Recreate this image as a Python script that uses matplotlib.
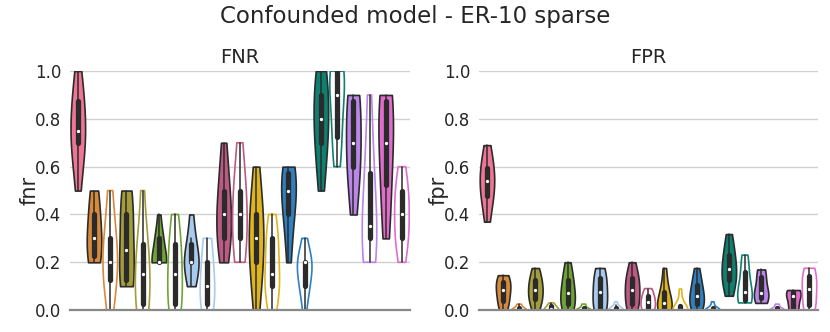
import numpy as np
import pandas as pd
import seaborn as sns
import matplotlib.pyplot as plt

sns.set_theme(style="whitegrid")

# one colour per method, each method after the first has a filled + hollow violin
colors = ["#ee7594", "#d8893a", "#a39d3a", "#6ea433", "#a8caee",
          "#bd5a84", "#e0b51c", "#2e80c0", "#0e8070", "#bb85ea", "#e06dcc"]
hollow = [False] + [False, True] * 10

# ======================
# FNR values per violin
# ======================
fnr = [
    [0.5, 0.6, 0.7, 0.7, 0.7, 0.8, 0.8, 0.9, 0.9, 1.0],
    [0.2, 0.2, 0.2, 0.3, 0.3, 0.3, 0.4, 0.4, 0.5, 0.5],
    [0.0, 0.1, 0.1, 0.2, 0.2, 0.2, 0.3, 0.3, 0.4, 0.5],
    [0.1, 0.1, 0.1, 0.2, 0.2, 0.3, 0.4, 0.4, 0.5, 0.5],
    [0.0, 0.0, 0.0, 0.1, 0.1, 0.2, 0.2, 0.3, 0.3, 0.5],
    [0.2, 0.2, 0.2, 0.2, 0.2, 0.2, 0.3, 0.3, 0.3, 0.4],
    [0.0, 0.0, 0.0, 0.1, 0.1, 0.2, 0.2, 0.3, 0.3, 0.4],
    [0.1, 0.1, 0.2, 0.2, 0.2, 0.2, 0.2, 0.3, 0.3, 0.4],
    [0.0, 0.0, 0.0, 0.1, 0.1, 0.1, 0.2, 0.2, 0.3, 0.3],
    [0.2, 0.3, 0.3, 0.3, 0.4, 0.4, 0.5, 0.5, 0.6, 0.7],
    [0.2, 0.2, 0.3, 0.3, 0.4, 0.4, 0.5, 0.5, 0.6, 0.7],
    [0.0, 0.1, 0.2, 0.2, 0.3, 0.3, 0.4, 0.4, 0.5, 0.6],
    [0.0, 0.1, 0.1, 0.1, 0.1, 0.2, 0.3, 0.3, 0.3, 0.4],
    [0.2, 0.3, 0.4, 0.4, 0.5, 0.5, 0.5, 0.6, 0.6, 0.6],
    [0.0, 0.1, 0.1, 0.1, 0.2, 0.2, 0.2, 0.2, 0.2, 0.3],
    [0.5, 0.6, 0.7, 0.7, 0.8, 0.8, 0.9, 0.9, 1.0, 1.0],
    [0.6, 0.7, 0.7, 0.8, 0.9, 0.9, 1.0, 1.0, 1.0, 1.0],
    [0.4, 0.5, 0.6, 0.6, 0.7, 0.7, 0.8, 0.9, 0.9, 0.9],
    [0.2, 0.2, 0.3, 0.3, 0.3, 0.4, 0.5, 0.6, 0.7, 0.9],
    [0.3, 0.4, 0.5, 0.6, 0.7, 0.7, 0.8, 0.9, 0.9, 0.9],
    [0.2, 0.3, 0.3, 0.3, 0.4, 0.4, 0.5, 0.5, 0.5, 0.6],
]

# ======================
# FPR values per violin
# ======================
fpr = [
    [0.37, 0.44, 0.47, 0.50, 0.53, 0.55, 0.58, 0.60, 0.64, 0.69],
    [0.0, 0.02, 0.03, 0.06, 0.08, 0.09, 0.11, 0.12, 0.14, 0.146],
    [0.0, 0.0, 0.0, 0.0, 0.0, 0.0, 0.01, 0.01, 0.02, 0.025],
    [0.0, 0.03, 0.04, 0.06, 0.08, 0.09, 0.11, 0.13, 0.15, 0.176],
    [0.0, 0.0, 0.0, 0.0, 0.0, 0.01, 0.01, 0.02, 0.02, 0.03],
    [0.0, 0.01, 0.02, 0.04, 0.06, 0.08, 0.11, 0.13, 0.16, 0.2],
    [0.0, 0.0, 0.0, 0.0, 0.0, 0.0, 0.0, 0.01, 0.02, 0.025],
    [0.0, 0.0, 0.0, 0.04, 0.07, 0.08, 0.11, 0.14, 0.16, 0.176],
    [0.0, 0.0, 0.0, 0.0, 0.0, 0.0, 0.01, 0.01, 0.02, 0.035],
    [0.0, 0.01, 0.02, 0.05, 0.08, 0.09, 0.12, 0.14, 0.15, 0.2],
    [0.0, 0.0, 0.0, 0.02, 0.03, 0.04, 0.05, 0.06, 0.08, 0.09],
    [0.0, 0.0, 0.0, 0.01, 0.02, 0.04, 0.06, 0.08, 0.12, 0.176],
    [0.0, 0.0, 0.0, 0.0, 0.0, 0.0, 0.01, 0.02, 0.05, 0.088],
    [0.0, 0.01, 0.02, 0.04, 0.05, 0.065, 0.09, 0.11, 0.14, 0.176],
    [0.0, 0.0, 0.0, 0.0, 0.0, 0.0, 0.0, 0.01, 0.02, 0.035],
    [0.06, 0.10, 0.12, 0.14, 0.16, 0.18, 0.21, 0.24, 0.27, 0.318],
    [0.03, 0.04, 0.04, 0.05, 0.07, 0.08, 0.12, 0.17, 0.20, 0.23],
    [0.03, 0.04, 0.05, 0.06, 0.07, 0.075, 0.11, 0.15, 0.16, 0.17],
    [0.0, 0.0, 0.0, 0.0, 0.0, 0.0, 0.0, 0.01, 0.02, 0.025],
    [0.0, 0.0, 0.0, 0.03, 0.05, 0.065, 0.07, 0.075, 0.08, 0.084],
    [0.0, 0.0, 0.01, 0.05, 0.08, 0.095, 0.12, 0.15, 0.16, 0.175],
]

violin_colors = [colors[0]] + [c for c in colors[1:] for _ in range(2)]
n_violins = len(violin_colors)

ver = tuple(int(p) for p in sns.__version__.split(".")[:2])
if ver >= (0, 13):
    extra = dict(density_norm="width", legend=False, bw_adjust=1.2,
                 inner_kws=dict(box_width=3.8, whis_width=1.1,
                                marker="o", markersize=1.6))
else:
    extra = dict(scale="width")


def draw(ax, values, title, ylabel):
    df = pd.DataFrame({
        "pos": np.repeat(np.arange(n_violins), [len(v) for v in values]),
        "val": np.concatenate(values),
    })
    sns.violinplot(data=df, x="pos", y="val", hue="pos", order=range(n_violins),
                   hue_order=range(n_violins), palette=violin_colors, cut=0,
                   inner="box", width=0.9, linewidth=1.2, dodge=False,
                   saturation=1, ax=ax, **extra)
    if ax.get_legend() is not None:
        ax.get_legend().remove()
    # make the second violin of every pair hollow
    for coll in ax.collections:
        if type(coll).__name__ not in ("PolyCollection", "FillBetweenPolyCollection"):
            continue
        paths = coll.get_paths()
        if not paths:
            continue
        xc = paths[0].vertices[:, 0].mean()
        i = int(round(xc))
        if 0 <= i < n_violins:
            if hollow[i]:
                coll.set_facecolor("none")
                coll.set_edgecolor(violin_colors[i])
            else:
                coll.set_edgecolor("#2b2b2b")
    ax.set_ylim(0, 1)
    ax.set_xlim(-0.5, n_violins - 0.5)
    ax.set_yticks([0, 0.2, 0.4, 0.6, 0.8, 1.0])
    ax.set_yticklabels(["0.0", "0.2", "0.4", "0.6", "0.8", "1.0"], fontsize=12)
    ax.set_xticks([])
    ax.set_xlabel("")
    ax.set_ylabel(ylabel, fontsize=15, labelpad=-3)
    ax.set_title(title, fontsize=14)
    ax.grid(axis="x", visible=False)
    ax.grid(axis="y", color="#d0d0d0", linewidth=1)
    for side in ["left", "right", "top"]:
        ax.spines[side].set_visible(False)
    ax.spines["bottom"].set_color("#888888")
    ax.spines["bottom"].set_linewidth(1.6)
    ax.tick_params(axis="y", length=0, pad=6)


fig = plt.figure(figsize=(8.3, 3.32), dpi=100)
ax1 = fig.add_axes([0.084, 0.066, 0.41, 0.72])
ax2 = fig.add_axes([0.577, 0.066, 0.408, 0.72])
draw(ax1, fnr, "FNR", "fnr")
draw(ax2, fpr, "FPR", "fpr")
fig.suptitle("Confounded model - ER-10 sparse", fontsize=16.5, y=0.985)

fig.savefig("out.png", dpi=100)
